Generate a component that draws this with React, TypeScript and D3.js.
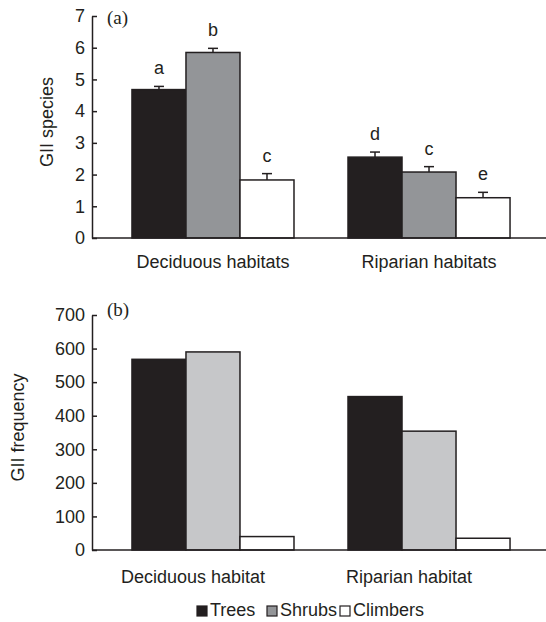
import React, { useEffect, useRef } from "react";
import * as d3 from "d3";

const habitatsA = ["Deciduous habitats", "Riparian habitats"];
const habitatsB = ["Deciduous habitat", "Riparian habitat"];
const groups = ["Trees", "Shrubs", "Climbers"];

// panel (a): mean GII species, with error bar tops and letters
const speciesMean = [
  [4.68, 5.85, 1.83],
  [2.55, 2.08, 1.27],
];
const speciesErr = [
  [0.1, 0.13, 0.2],
  [0.16, 0.17, 0.17],
];
const speciesLetters = [
  ["a", "b", "c"],
  ["d", "c", "e"],
];
const speciesTicks = [0, 1, 2, 3, 4, 5, 6, 7];

// panel (b): GII frequency
const frequency = [
  [568, 590, 40],
  [457, 354, 35],
];
const frequencyTicks = [0, 100, 200, 300, 400, 500, 600, 700];

const colorsA = ["#231f20", "#939598", "#ffffff"];
const colorsB = ["#231f20", "#c6c7c9", "#ffffff"];

const FONT = "'Liberation Sans', Arial, sans-serif";
const INK = "#231f20";

const App = () => {
  const svgRef = useRef<SVGSVGElement | null>(null);

  useEffect(() => {
    if (!svgRef.current) return;
    const svg = d3.select(svgRef.current);
    svg.selectAll("*").remove();

    const left = 92;
    const right = 546;

    const drawPanel = (opts: {
      cats: string[];
      values: number[][];
      errs?: number[][];
      letters?: string[][];
      colors: string[];
      ticks: number[];
      yTop: number;
      yBottom: number;
      title: string;
      titleX: number;
      tag: string;
      tagY: number;
      labelY: number;
      labelDx: number;
    }) => {
      const max = opts.ticks[opts.ticks.length - 1];
      const y = d3.scaleLinear().domain([0, max]).range([opts.yBottom, opts.yTop]);
      const x0 = d3
        .scaleBand()
        .domain(opts.cats)
        .range([left, 550])
        .paddingInner(0.25)
        .paddingOuter(0.185);
      const x1 = d3.scaleBand().domain(groups).range([0, x0.bandwidth()]);

      const g = svg.append("g");

      // bars
      opts.cats.forEach((cat, ci) => {
        groups.forEach((grp, gi) => {
          const v = opts.values[ci][gi];
          const bx = (x0(cat) as number) + (x1(grp) as number);
          g.append("rect")
            .attr("x", bx)
            .attr("y", y(v))
            .attr("width", x1.bandwidth())
            .attr("height", y(0) - y(v))
            .attr("fill", opts.colors[gi])
            .attr("stroke", INK)
            .attr("stroke-width", 1.5);

          if (opts.errs) {
            const cx = bx + x1.bandwidth() / 2;
            const top = y(v + opts.errs[ci][gi]);
            g.append("line")
              .attr("x1", cx).attr("x2", cx)
              .attr("y1", y(v)).attr("y2", top)
              .attr("stroke", INK).attr("stroke-width", 1.5);
            g.append("line")
              .attr("x1", cx - 5).attr("x2", cx + 5)
              .attr("y1", top).attr("y2", top)
              .attr("stroke", INK).attr("stroke-width", 1.5);
            if (opts.letters) {
              g.append("text")
                .attr("x", cx)
                .attr("y", top - 12)
                .attr("text-anchor", "middle")
                .attr("font-family", FONT)
                .attr("font-size", 18)
                .attr("fill", INK)
                .text(opts.letters[ci][gi]);
            }
          }
        });

        g.append("text")
          .attr("x", (x0(cat) as number) + x0.bandwidth() / 2 + opts.labelDx)
          .attr("y", opts.labelY)
          .attr("text-anchor", "middle")
          .attr("font-family", FONT)
          .attr("font-size", 18)
          .attr("fill", INK)
          .text(cat);
      });

      // x baseline
      g.append("line")
        .attr("x1", left).attr("x2", right)
        .attr("y1", y(0)).attr("y2", y(0))
        .attr("stroke", INK).attr("stroke-width", 1.5);

      // y axis, ticks pointing inward
      const axis = g
        .append("g")
        .attr("transform", `translate(${left},0)`)
        .call(
          d3
            .axisLeft(y)
            .tickValues(opts.ticks)
            .tickFormat(d3.format("d"))
            .tickSizeInner(-5)
            .tickSizeOuter(0)
            .tickPadding(7)
        );
      axis.select(".domain").attr("stroke", INK).attr("stroke-width", 1.5);
      axis.selectAll(".tick line").attr("stroke", INK).attr("stroke-width", 1.5);
      axis
        .selectAll(".tick text")
        .attr("font-family", FONT)
        .attr("font-size", 18)
        .attr("fill", INK);

      // y title
      g.append("text")
        .attr("transform", `translate(${opts.titleX},${(opts.yTop + opts.yBottom) / 2 - 5}) rotate(-90)`)
        .attr("text-anchor", "middle")
        .attr("font-family", FONT)
        .attr("font-size", 18)
        .attr("fill", INK)
        .text(opts.title);

      // panel tag
      g.append("text")
        .attr("x", 107)
        .attr("y", opts.tagY)
        .attr("font-family", "'Liberation Serif', 'Times New Roman', serif")
        .attr("font-size", 19)
        .attr("fill", INK)
        .text(opts.tag);
    };

    drawPanel({
      cats: habitatsA,
      values: speciesMean,
      errs: speciesErr,
      letters: speciesLetters,
      colors: colorsA,
      ticks: speciesTicks,
      yTop: 16,
      yBottom: 238,
      title: "GII species",
      titleX: 53,
      tag: "(a)",
      tagY: 24,
      labelY: 268,
      labelDx: 0,
    });

    drawPanel({
      cats: habitatsB,
      values: frequency,
      colors: colorsB,
      ticks: frequencyTicks,
      yTop: 315,
      yBottom: 550,
      title: "GII frequency",
      titleX: 24,
      tag: "(b)",
      tagY: 316,
      labelY: 583,
      labelDx: -20,
    });

    // legend
    const legendX = [197, 267, 340];
    const legendColors = ["#231f20", "#939598", "#ffffff"];
    const lg = svg.append("g");
    groups.forEach((grp, i) => {
      lg.append("rect")
        .attr("x", legendX[i])
        .attr("y", 606)
        .attr("width", 10)
        .attr("height", 10)
        .attr("fill", legendColors[i])
        .attr("stroke", INK)
        .attr("stroke-width", 1.2);
      lg.append("text")
        .attr("x", legendX[i] + 13)
        .attr("y", 616)
        .attr("font-family", FONT)
        .attr("font-size", 18)
        .attr("fill", INK)
        .text(grp);
    });
  }, []);

  return (
    <svg
      ref={svgRef}
      width={546}
      height={622}
      style={{ position: "absolute", left: 0, top: 0, background: "#fff" }}
    />
  );
};

export default App;
